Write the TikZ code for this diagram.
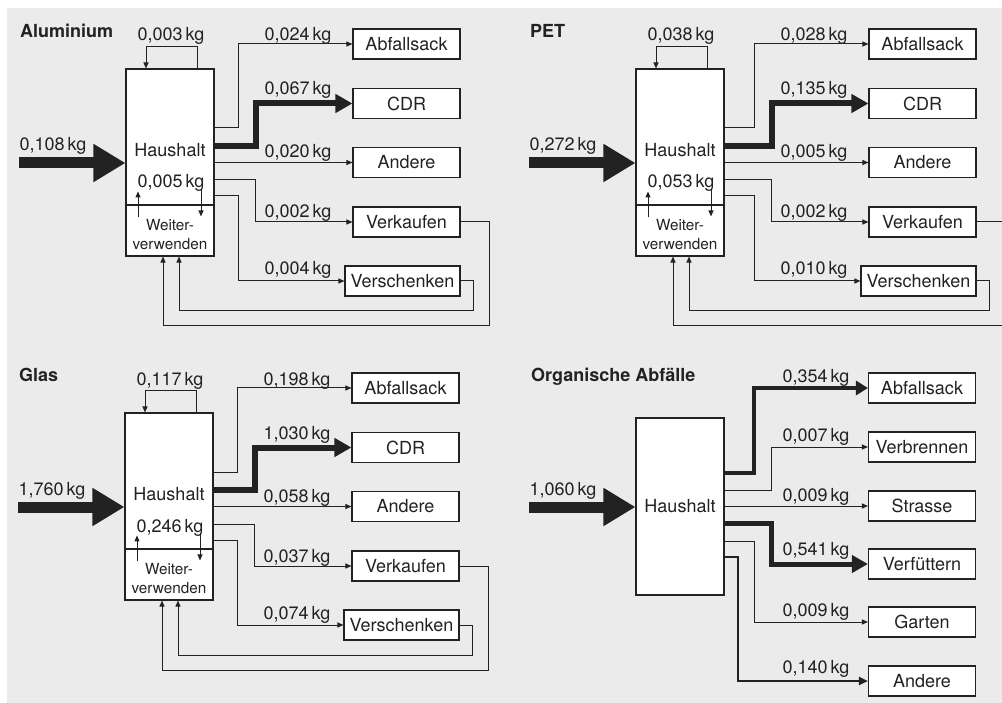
\documentclass[tikz,border=0pt]{standalone}
\usepackage{fontspec}
\setmainfont{TeX Gyre Heros}
\usetikzlibrary{arrows.meta}
\definecolor{ink}{HTML}{222222}
\definecolor{panelbg}{HTML}{EBEBEB}
\newcommand{\outshift}{0}
\newcommand{\recycling}[9]{%
  \node (title)[paneltitle] at (20,38) {#1};
  \node (inlabel)[lbl] at (53,151) {#2\,kg};
  \coordinate (src) at (19,163);
  \node (hh)[house] at (170,137) {};
  \node (ww)[house, minimum height=51pt] at (170,230.5) {};
  \node (hhtext)[txt] at (170,150) {Haushalt};
  \node (reuse)[lbl] at (171,188) {#4\,kg};
  \node (wwtext)[small] at (170,234.5) {Weiter-\\verwenden};
  \node (loop)[lbl] at (171,41) {#3\,kg};
  \node (abf)[box] at (406.5+\outshift,44) {Abfallsack};
  \node (cdr)[box] at (406.5+\outshift,103.5) {CDR};
  \node (andr)[box] at (406.5+\outshift,162.5) {Andere};
  \node (vk)[box] at (406.5+\outshift,222) {Verkaufen};
  \node (vs)[box, minimum width=115pt] at (402.5+\outshift,281) {Verschenken};
  \node (labf)[lbl] at (298+\outshift,41) {#5\,kg};
  \node (lcdr)[lbl] at (298+\outshift,95) {#6\,kg};
  \node (landr)[lbl] at (298+\outshift,158) {#7\,kg};
  \node (lvk)[lbl] at (298+\outshift,218) {#8\,kg};
  \node (lvs)[lbl] at (298+\outshift,275) {#9\,kg};
  \draw[inflow] (src) -- (src -| hh.west);
  \draw[flow] ([xshift=27pt]hh.north) -- ++(0,-22) -| ([xshift=-24pt]hh.north);
  \draw[flow] ([xshift=-32pt,yshift=-13pt]ww.north) -- ([xshift=-32pt,yshift=13pt]ww.north);
  \draw[flow] ([xshift=31pt,yshift=15pt]ww.north) -- ([xshift=31pt,yshift=-12pt]ww.north);
  \draw[flow] ([yshift=9pt]hh.east) -| ([xshift=-114pt]abf.west) -- (abf.west);
  \draw[fat] ([yshift=-9pt]hh.east) -| ([xshift=-96pt]cdr.west) -- (cdr.west);
  \draw[flow] (hh.east |- andr.west) -- (andr.west);
  \draw[flow] ([yshift=-43pt]hh.east) -| ([xshift=-97pt]vk.west) -- (vk.west);
  \draw[flow] ([yshift=-59pt]hh.east) -| ([xshift=-106pt]vs.west) -- (vs.west);
  \draw[flow] (vs.east) -| ([xshift=13pt,yshift=-30pt]vs.east) -| ([xshift=9pt]ww.south);
  \draw[flow] (vk.east) -| ([xshift=29pt,yshift=-104pt]vk.east) -| ([xshift=-7pt]ww.south);
}
\begin{document}
\begin{tikzpicture}[x=1pt, y=-1pt,
    txt/.style={font=\fontsize{18}{21}\selectfont, text=ink, inner sep=0pt},
    lbl/.style={txt, anchor=base},
    small/.style={font=\fontsize{15.3}{19}\selectfont, text=ink, inner sep=0pt, align=center},
    paneltitle/.style={font=\fontsize{18}{21}\selectfont\bfseries, text=ink, anchor=base west, inner sep=0pt},
    house/.style={draw=ink, line width=1.1pt, fill=white, minimum width=88pt, minimum height=136pt, inner sep=0pt},
    box/.style={draw=ink, line width=1.1pt, fill=white, txt, minimum width=107pt, minimum height=30pt},
    flow/.style={draw=ink, line width=1pt, -{Triangle[length=6pt,width=5pt]}},
    fat/.style={draw=ink, line width=6pt, -{Triangle[length=17pt,width=18pt]}},
    inflow/.style={draw=ink, line width=11pt, -{Triangle[length=32pt,width=36pt]}}]
  \useasboundingbox (0,0) rectangle (1002,703);
  \clip (0,0) rectangle (1002,703);
  \fill[panelbg] (7,8) rectangle (1002,703);
  \begin{scope}
    \recycling{Aluminium}{0,108}{0,003}{0,005}{0,024}{0,067}{0,020}{0,002}{0,004}
  \end{scope}
  \begin{scope}[shift={(510,0)}]
    \renewcommand{\outshift}{6}
    \recycling{PET}{0,272}{0,038}{0,053}{0,028}{0,135}{0,005}{0,002}{0,010}
  \end{scope}
  \begin{scope}[shift={(-1,344)}]
    \recycling{Glas}{1,760}{0,117}{0,246}{0,198}{1,030}{0,058}{0,037}{0,074}
  \end{scope}
  \node (otitle)[paneltitle] at (531,382) {Organische Abfälle};
  \node (oinlabel)[lbl] at (563,495) {1,060\,kg};
  \coordinate (osrc) at (529,507);
  \node (ohh)[house, txt, minimum height=177pt] at (680,506.5) {Haushalt};
  \node (oabf)[box] at (922,388) {Abfallsack};
  \node (ovb)[box] at (922,447) {Verbrennen};
  \node (ostr)[box] at (922,506) {Strasse};
  \node (ovf)[box] at (922,564) {Verfüttern};
  \node (ogt)[box] at (922,622) {Garten};
  \node (oandr)[box] at (922,681) {Andere};
  \node (loabf)[lbl] at (816,383) {0,354\,kg};
  \node (lovb)[lbl] at (816,441) {0,007\,kg};
  \node (lostr)[lbl] at (816,501) {0,009\,kg};
  \node (lovf)[lbl] at (816,555) {0,541\,kg};
  \node (logt)[lbl] at (816,616) {0,009\,kg};
  \node (loandr)[lbl] at (816,673) {0,140\,kg};
  \draw[inflow] (osrc) -- (osrc -| ohh.west);
  \draw[fat, line width=4.5pt, -{Triangle[length=12pt,width=14pt]}] ([yshift=33.5pt]ohh.east) -| ([xshift=-114pt]oabf.west) -- (oabf.west);
  \draw[flow] ([yshift=16.5pt]ohh.east) -| ([xshift=-96pt]ovb.west) -- (ovb.west);
  \draw[flow] (ohh.east |- ostr.west) -- (ostr.west);
  \draw[fat, line width=5pt, -{Triangle[length=16pt,width=17pt]}] ([yshift=-16.5pt]ohh.east) -| ([xshift=-96pt]ovf.west) -- (ovf.west);
  \draw[flow] ([yshift=-34.5pt]ohh.east) -| ([xshift=-113pt]ogt.west) -- (ogt.west);
  \draw[flow, line width=2pt, -{Triangle[length=9pt,width=8pt]}] ([yshift=-50.5pt]ohh.east) -| ([xshift=-130pt]oandr.west) -- (oandr.west);
\end{tikzpicture}
\end{document}
